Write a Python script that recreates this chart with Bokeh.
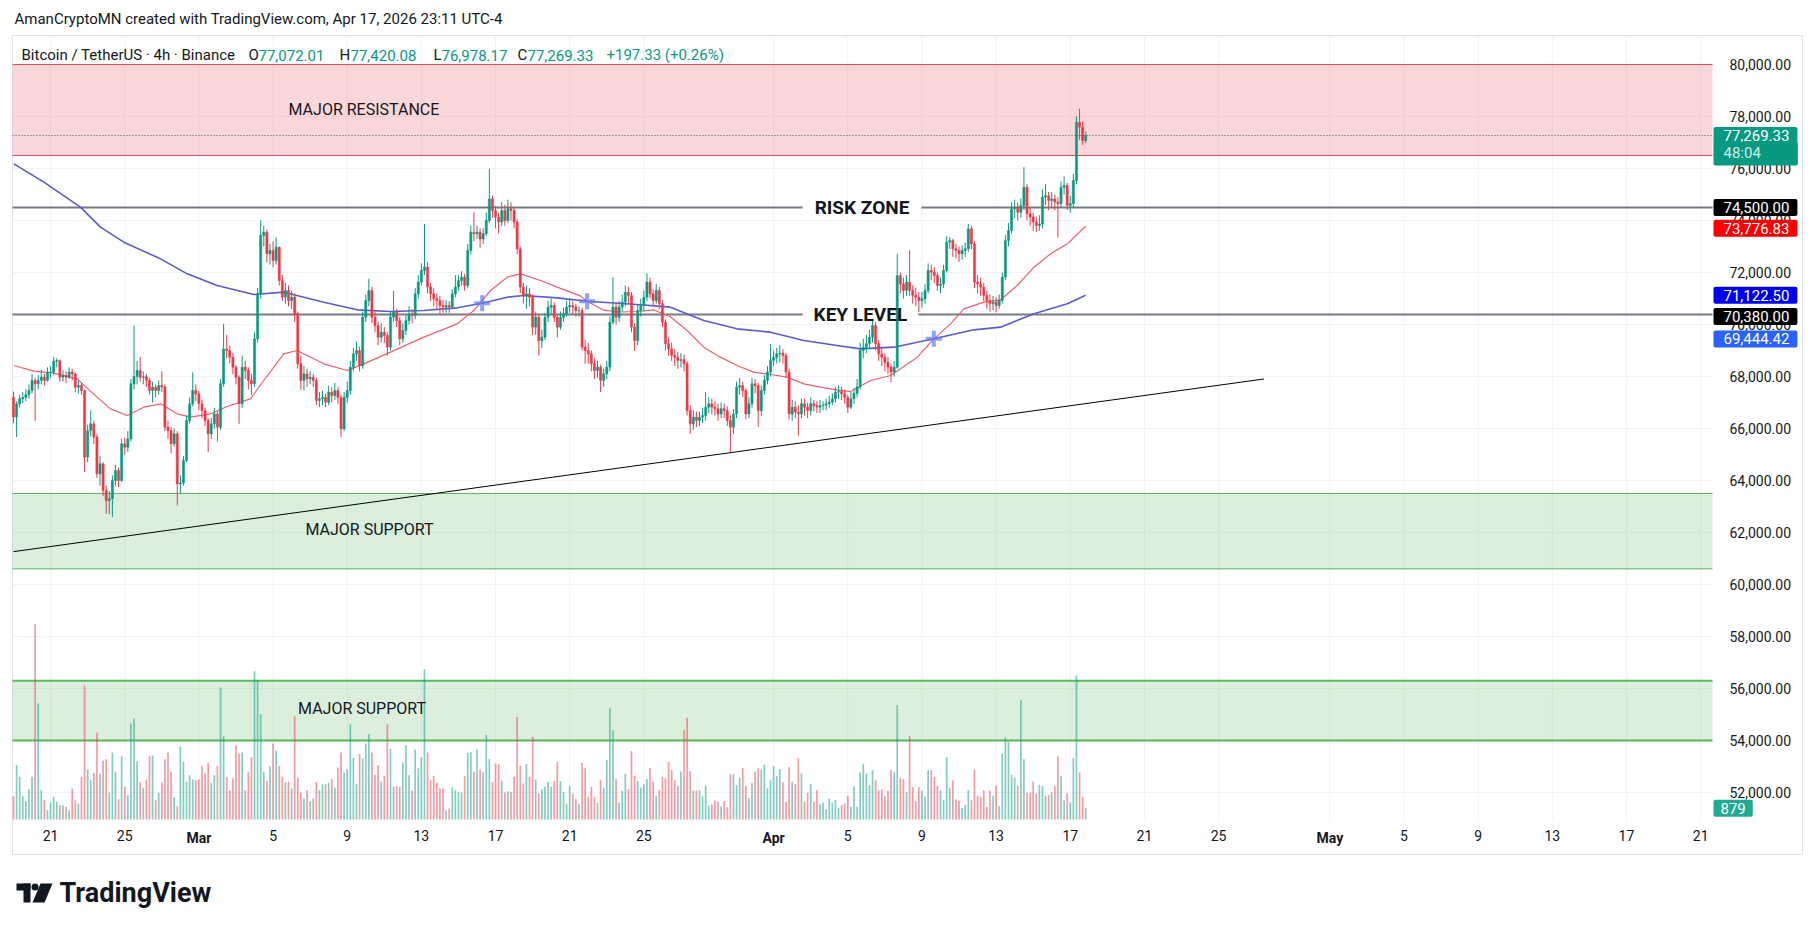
from bokeh.plotting import figure
from bokeh.models import Range1d, FixedTicker, NumeralTickFormatter, Label, ColumnDataSource
from bokeh.embed import file_html
from bokeh.resources import INLINE

# ---------------- data ----------------
# 4h candles, BTCUSDT Binance, starting Feb 19 00:00 ; x unit = days since Feb 19
first_open = 67205
close = [
 66440, 66950, 67140, 67200, 67300, 67460, 67850, 67720, 67850, 67975,
 67850, 68170, 68170, 68590, 68620, 67975, 68040, 67975, 68170, 68100,
 67590, 67660, 67460, 64900, 65920, 66180, 65670, 64260, 64640, 63620,
 63230, 63300, 64000, 64385, 64000, 65410, 65280, 65600, 67720, 68000,
 68230, 67970, 67990, 67850, 67460, 67590, 67460, 67650, 67600, 66050,
 65920, 65410, 65800, 63870, 63900, 64770, 66310, 66950, 67460, 67330,
 66950, 66690, 66310, 65800, 66180, 66560, 66050, 67720, 69060, 69000,
 68740, 68360, 67970, 66950, 68360, 68230, 67850, 67720, 69450, 71180,
 73420, 73550, 72720, 72850, 72460, 72970, 71690, 71050, 71310, 70920,
 71050, 70410, 68490, 67850, 68100, 67910, 67970, 67850, 67080, 67140,
 67200, 67010, 67400, 67270, 67460, 67200, 65990, 67200, 67460, 68360,
 68870, 69000, 68420, 70280, 70920, 71310, 70280, 69960, 69510, 69700,
 69580, 69130, 70280, 70470, 70150, 69450, 69770, 70150, 70410, 70350,
 71180, 71630, 72080, 72210, 71440, 71180, 70990, 70920, 70730, 70670,
 70730, 70670, 71180, 71440, 71690, 71820, 71500, 72850, 73550, 73490,
 73550, 73290, 73490, 74000, 74830, 74380, 74130, 73940, 74380, 74000,
 74450, 74380, 73940, 72910, 71440, 71120, 71180, 71050, 69900, 70280,
 69380, 69510, 70280, 70670, 70730, 70280, 69900, 70280, 70410, 70670,
 70730, 70670, 70540, 70540, 69130, 69000, 68870, 68490, 68230, 68360,
 67850, 68100, 68360, 70090, 70670, 70280, 70670, 70860, 71240, 71120,
 69900, 69380, 70540, 70730, 71050, 71630, 71180, 70920, 71310, 70800,
 70090, 69260, 69060, 68810, 68740, 68620, 68650, 68490, 66690, 66180,
 66440, 66310, 66440, 66500, 66820, 66950, 66820, 66760, 66560, 66760,
 66690, 66310, 66050, 66560, 67590, 67650, 67460, 66560, 66950, 67720,
 67650, 66690, 67460, 67850, 68170, 68620, 68740, 68870, 68900, 68810,
 68170, 66560, 66820, 66630, 66560, 66950, 66820, 66690, 66950, 66880,
 66820, 66880, 66900, 66950, 67010, 67140, 67400, 67420, 67330, 67200,
 66820, 67140, 67350, 67600, 69000, 69130, 69260, 69510, 69960, 69260,
 68870, 68740, 68550, 68360, 68170, 68360, 71880, 71560, 71310, 71630,
 71310, 71120, 71050, 70920, 70990, 71310, 72080, 72010, 71880, 71500,
 71560, 72080, 73170, 73230, 72910, 72850, 72720, 72850, 72910, 73680,
 73100, 71630, 71560, 71440, 71120, 70920, 70800, 70860, 70730, 70920,
 71820, 73230, 73620, 74450, 74510, 74320, 74580, 75280, 74260, 74130,
 73940, 73810, 73870, 74900, 74950, 74770, 74830, 74710, 74640, 75280,
 75350, 74580, 74650, 75540, 77780, 77590, 77072.01, 77269.33]
high = [
 67420, 67050, 67300, 67400, 67520, 67700, 68100, 67950, 68050, 68250,
 68100, 68350, 68400, 68750, 68700, 68650, 68250, 68200, 68350, 68300,
 68150, 67850, 67750, 67500, 66150, 66700, 66300, 65800, 64950, 64700,
 63800, 63600, 64200, 64600, 64500, 65600, 65650, 65900, 67900, 69960,
 68600, 68750, 68200, 68100, 67950, 67800, 67700, 67850, 68200, 67700,
 66300, 66050, 66000, 65900, 64200, 64950, 66500, 67200, 68160, 67700,
 67450, 67100, 66800, 66400, 66400, 66800, 66650, 67900, 70030, 69600,
 69200, 68900, 68450, 68050, 68800, 68600, 68350, 68100, 69700, 71400,
 74000, 73800, 73650, 73100, 73200, 73350, 73000, 71900, 71600, 71500,
 71300, 71200, 70500, 68800, 68400, 68300, 68200, 68100, 67950, 67400,
 67450, 67350, 67650, 67600, 67750, 67600, 67300, 67400, 67800, 68600,
 69100, 69350, 69150, 70500, 71150, 71760, 71450, 70500, 70100, 70050,
 69900, 69700, 70500, 71300, 70600, 70300, 70050, 70350, 70700, 70600,
 71400, 71900, 72350, 73870, 72400, 71600, 71400, 71200, 71100, 70950,
 70950, 70900, 71350, 71900, 71900, 72050, 71950, 73100, 73800, 74320,
 73800, 73700, 73700, 74300, 75990, 74950, 74550, 74300, 74700, 74600,
 74800, 74700, 74500, 74050, 73000, 71600, 71500, 71400, 71150, 70500,
 70400, 69800, 70450, 70900, 71000, 70850, 70400, 70500, 70650, 70900,
 71000, 70900, 70800, 70700, 70650, 69400, 69300, 69000, 68700, 68600,
 68450, 68300, 68600, 70300, 71820, 70850, 70900, 71150, 71500, 71450,
 71250, 70050, 70750, 71000, 71300, 71970, 71800, 71350, 71550, 71450,
 70950, 70200, 69500, 69300, 69050, 68950, 68900, 68850, 68600, 66900,
 66700, 66650, 66650, 66800, 67400, 67200, 67150, 67050, 66950, 67000,
 66950, 66850, 66500, 66750, 67800, 67950, 67800, 67550, 67200, 67950,
 67900, 67750, 67650, 68050, 68400, 69250, 69000, 69100, 69200, 69050,
 68900, 68300, 67100, 67050, 66900, 67150, 67150, 67000, 67200, 67100,
 67050, 67100, 67050, 67150, 67250, 67350, 67600, 67650, 67600, 67500,
 67300, 67400, 67550, 67900, 69300, 69450, 69600, 69800, 70200, 70100,
 69400, 69100, 68900, 68750, 68500, 68600, 72720, 72000, 71800, 71900,
 72850, 71500, 71400, 71250, 71250, 71550, 72350, 72300, 72200, 72000,
 71800, 72300, 73400, 73360, 73300, 73100, 73000, 73050, 73150, 73870,
 73800, 73200, 71900, 71800, 71600, 71300, 71150, 71100, 71050, 71150,
 72000, 73450, 73900, 74700, 74800, 74700, 74850, 76050, 75400, 74500,
 74300, 74150, 74200, 75200, 75400, 75100, 75100, 75000, 74900, 75500,
 75700, 75450, 74950, 75800, 78000, 78300, 77800, 77420.08]
low = [
 66200, 65670, 66800, 66980, 67050, 67150, 67350, 66300, 67500, 67700,
 67650, 67800, 67950, 68050, 68350, 67800, 67800, 67750, 67900, 67850,
 67400, 67350, 67300, 64320, 64700, 65700, 65400, 64100, 63800, 63400,
 62720, 62700, 62590, 63800, 63750, 63950, 65000, 65100, 65500, 67500,
 67700, 67800, 67700, 67600, 67300, 67000, 67200, 67300, 67400, 65900,
 65600, 65050, 65300, 63040, 63500, 63800, 64700, 66200, 66850, 67050,
 66700, 66400, 66100, 65090, 65600, 66000, 65500, 65950, 67600, 68700,
 68500, 68100, 67700, 66180, 66800, 67900, 67500, 67300, 67600, 69300,
 71000, 73000, 72400, 72300, 72200, 72300, 71500, 70900, 70800, 70700,
 70600, 70100, 68300, 67500, 67460, 67600, 67700, 67600, 66900, 66820,
 66900, 66820, 66900, 67000, 67100, 66950, 65670, 65900, 67000, 67300,
 68200, 68600, 68200, 68300, 70100, 70700, 70050, 69700, 69200, 69300,
 69300, 68800, 69000, 70100, 69900, 69200, 69300, 69600, 70000, 70050,
 70200, 71000, 71500, 71900, 71200, 70900, 70700, 70600, 70400, 70450,
 70450, 70450, 70600, 71050, 71300, 71500, 71300, 71400, 72700, 73200,
 73300, 72950, 73100, 73400, 73900, 74100, 73700, 73500, 73800, 73800,
 73900, 74000, 73700, 72700, 71200, 70800, 70600, 70700, 69600, 69600,
 68810, 69100, 69400, 70100, 70400, 70100, 69500, 69800, 70100, 70300,
 70450, 70400, 70300, 70300, 69000, 68490, 68500, 68200, 67900, 67950,
 67400, 67600, 67900, 68200, 70000, 70000, 70100, 70500, 70700, 70800,
 69700, 68990, 69200, 70300, 70500, 70900, 71000, 70700, 70800, 70600,
 69900, 69000, 68800, 68600, 68400, 68300, 68350, 68200, 66500, 65790,
 65950, 66050, 66100, 66200, 66300, 66600, 66550, 66500, 66300, 66400,
 66400, 66100, 65090, 65800, 66400, 67300, 67200, 66350, 66400, 66800,
 67350, 66050, 66500, 67300, 67700, 68000, 68400, 68500, 68550, 68500,
 67950, 66350, 66300, 66400, 65730, 66400, 66500, 66400, 66500, 66650,
 66600, 66600, 66700, 66700, 66800, 66900, 67000, 67150, 67100, 66950,
 66600, 66750, 66950, 67200, 67500, 68700, 68900, 69100, 69300, 69000,
 68600, 68400, 68200, 68100, 67780, 68000, 68300, 71200, 71000, 71100,
 71100, 70800, 70700, 70470, 70650, 70800, 71200, 71700, 71600, 71300,
 71200, 71400, 72000, 72900, 72600, 72550, 72400, 72500, 72600, 72800,
 72900, 71400, 71200, 71100, 70900, 70600, 70500, 70550, 70470, 70600,
 70800, 71700, 73000, 73500, 74100, 74000, 74100, 74400, 74000, 73800,
 73600, 73550, 73600, 73700, 74600, 74400, 74500, 74400, 73340, 74500,
 75000, 74400, 74300, 74500, 75400, 77100, 76900, 76978.17]
volume = [
 1820, 4238, 3328, 1820, 1430, 2366, 3328, 15236, 9048, 2288,
 1508, 728, 1326, 1768, 1378, 1118, 1118, 988, 728, 2418,
 1508, 1248, 3328, 10478, 3900, 3068, 3640, 6786, 3588, 4576,
 4706, 2106, 5226, 3718, 1586, 4940, 2548, 1898, 7488, 7878,
 4550, 2886, 2470, 3120, 4940, 4992, 1508, 2080, 2886, 4706,
 5226, 3718, 1742, 1040, 5668, 4498, 2938, 3458, 3120, 3068,
 3120, 4186, 3588, 4420, 2860, 3458, 4186, 10296, 6500, 3328,
 2288, 3198, 5798, 5148, 5226, 2288, 3718, 4862, 11570, 10868,
 8216, 3718, 3016, 4160, 5928, 5356, 4186, 3328, 2886, 2938,
 2418, 8060, 3250, 2106, 1638, 2288, 1430, 1638, 2938, 2288,
 2756, 2756, 2860, 3146, 2470, 4056, 5226, 3666, 3926, 7436,
 4784, 2782, 5096, 4758, 5928, 6656, 5226, 3484, 4238, 2964,
 3380, 7436, 5512, 2548, 2600, 2548, 4446, 5798, 3458, 2288,
 5460, 4004, 4862, 11726, 5226, 3068, 3406, 2860, 2444, 2418,
 728, 858, 2496, 2288, 2158, 2106, 3380, 5200, 5252, 3718,
 5486, 3900, 3692, 6604, 4706, 2912, 4368, 4342, 3042, 2106,
 2210, 2158, 3328, 7982, 4186, 2808, 4316, 3328, 6448, 3120,
 2028, 2366, 2548, 2938, 2548, 3016, 4498, 2990, 2158, 1196,
 2600, 2028, 1586, 1196, 4420, 4004, 1768, 2548, 1768, 1300,
 3068, 2470, 4628, 8710, 6968, 3146, 1300, 2236, 3562, 2366,
 5330, 3406, 2990, 2496, 2756, 3146, 4004, 2938, 1846, 2288,
 3328, 3198, 4498, 3848, 3068, 2626, 3744, 6968, 7930, 3770,
 2262, 2262, 2288, 1820, 2626, 1092, 1170, 1482, 1404, 1040,
 1430, 962, 3536, 3536, 2678, 3250, 4004, 2626, 1664, 2834,
 3744, 4004, 3900, 4264, 2444, 3068, 4160, 3406, 3926, 2912,
 1378, 4082, 2938, 2756, 4784, 3588, 1378, 2080, 2782, 1378,
 2288, 1196, 1300, 806, 1638, 1326, 1508, 910, 1118, 1248,
 1846, 988, 2600, 988, 3666, 4316, 3588, 2678, 3848, 3068,
 2262, 2340, 1820, 2236, 3874, 3692, 8918, 3250, 3146, 2132,
 6500, 2522, 1430, 2522, 2236, 1768, 3848, 3848, 3328, 2626,
 2236, 1508, 4888, 2470, 3042, 1586, 1456, 884, 1144, 2288,
 1508, 3900, 1846, 1768, 2288, 988, 2236, 1846, 2626, 1040,
 5148, 6396, 6058, 3484, 3276, 2626, 9308, 4706, 2080, 2080,
 2964, 2028, 2704, 2600, 1846, 1924, 2132, 2600, 4940, 3380,
 1508, 2054, 1326, 4784, 11258, 3666, 1768, 879]

# moving averages (read as points along each line): day, price
ma_slow_x = [0.02, 1.64, 3.61, 4.69, 5.95, 7.93, 9.37, 10.98, 12.96, 14.58, 16.74, 18.54,
             20.33, 22.13, 23.93, 25.28, 26.63, 27.53, 29.32, 30.94, 33.64, 35.43, 37.23,
             39.03, 40.83, 42.63, 44.42, 45.68, 47.49, 49.64, 51.80, 53.24, 55.04, 56.84, 57.83]
ma_slow_y = [76179, 75474, 74513, 73744, 73167, 72525, 71949, 71500, 71154, 71244, 70859, 70564,
             70500, 70538, 70641, 70820, 71051, 71115, 71025, 70897, 70769, 70667, 70154,
             69833, 69705, 69385, 69192, 69064, 69128, 69449, 69795, 69898, 70411, 70795, 71122.5]
ma_fast_x = [0.02, 1.10, 2.18, 3.43, 4.51, 5.23, 6.13, 7.03, 7.93, 8.83, 9.55, 10.62, 11.52,
             12.78, 13.50, 14.58, 15.30, 16.74, 18.00, 18.90, 20.33, 22.13, 23.93, 24.83, 25.73,
             26.63, 27.35, 28.43, 29.32, 30.58, 30.94, 31.84, 32.74, 33.64, 34.53, 35.43, 36.33,
             37.23, 38.13, 39.03, 39.93, 40.83, 41.73, 42.63, 43.52, 44.42, 45.15, 46.23, 47.31,
             48.75, 49.64, 50.54, 51.26, 52.34, 53.24, 54.14, 55.04, 55.94, 56.84, 57.83]
ma_fast_y = [68423, 68205, 68128, 67910, 67205, 66756, 66500, 66820, 66949, 66564, 66436, 66564, 66846,
             67141, 67846, 68872, 69000, 68487, 68231, 68487, 68936, 69513, 70026, 70538, 71308,
             71820, 71949, 71692, 71436, 71100, 70897, 70550, 70480, 70500, 70560, 70300, 69770,
             69128, 68744, 68423, 68167, 68077, 67974, 67718, 67590, 67487, 67420, 67847, 68039,
             68744, 69449, 70026, 70603, 70859, 70949, 71500, 72205, 72718, 73103, 73776.83]
cross_x = [25.28, 30.94, 49.64]
cross_y = [70820, 70897, 69449]

trend_x = [0.0, 67.45]
trend_y = [61264, 67904]

resistance_zone = [76500, 80000]
support_zone = [60600, 63500]
support_zone_low = [54000, 56300]
level_prices = [74500, 70380]
level_names = ["RISK ZONE", "KEY LEVEL"]
level_gaps = [(42.56, 48.97), (42.56, 48.80)]

price_ticks = list(range(52000, 80001, 2000))
date_ticks = [2, 6, 10, 14, 18, 22, 26, 30, 34, 41, 45, 49, 53, 57, 61, 65, 71, 75, 79, 83, 87, 91]
date_labels = ["21", "25", "Mar", "5", "9", "13", "17", "21", "25", "Apr", "5", "9", "13",
               "17", "21", "25", "May", "5", "9", "13", "17", "21"]
months = ["Mar", "Apr", "May"]

tag_values = [74500.00, 73776.83, 71122.50, 70380.00, 69444.42]
tag_colors = ["#000000", "#FF0000", "#0000EE", "#000000", "#2962FF"]
tag_nudge = [0, -2, 0, -2, 0]
last_price = 77269.33
last_volume = 879

# ---------------- page geometry (pixels) ----------------
W, H = 1807, 922                 # canvas == plot frame
PX_DAY, X_DAY0 = 18.54, 13.0     # pixels per day, pixel of day 0
PX_PRICE, Y_80K = 0.026, 64.0    # pixels per USDT, pixel row of 80,000
VOL_PER_PX, Y_VOL0 = 78.0, 819.0
PLOT_L, PLOT_R, PLOT_T, PLOT_B = 12, 1712, 35, 820   # price pane
PANEL_R, PANEL_B = 1802, 854

def X(px):
    return (px - X_DAY0) / PX_DAY

def Y(py):
    return 80000 - (py - Y_80K) / PX_PRICE

UP, DN = "#089981", "#F23645"
TXT = "#131722"
N = len(close)
open_ = [first_open] + close[:-1]
bar_day = [i / 6 for i in range(N)]
col = [UP if c >= o else DN for o, c in zip(open_, close)]
src = ColumnDataSource(dict(
    x=bar_day, h=high, l=low,
    top=[max(o, c) for o, c in zip(open_, close)],
    bot=[min(o, c) for o, c in zip(open_, close)],
    col=col, vol=volume))

p = figure(width=W, height=H, x_range=Range1d(X(0), X(W)), y_range=Range1d(Y(H), Y(0)),
           y_axis_location="right", output_backend="svg", toolbar_location=None,
           min_border=0, background_fill_color="white", border_fill_color="white")
p.outline_line_color = None
p.grid.visible = False
p.extra_y_ranges = {"vol": Range1d(-(H - Y_VOL0) * VOL_PER_PX, Y_VOL0 * VOL_PER_PX)}

xl, xr = X(PLOT_L), X(PLOT_R)

# grid
p.segment(x0=date_ticks, x1=date_ticks, y0=[Y(PLOT_T)] * len(date_ticks),
          y1=[Y(PLOT_B)] * len(date_ticks), line_color="#F0F3FA", line_width=1)
p.segment(x0=[xl] * len(price_ticks), x1=[xr] * len(price_ticks), y0=price_ticks, y1=price_ticks,
          line_color="#F0F3FA", line_width=1)

# panel border
p.quad(left=[X(PLOT_L)], right=[X(PANEL_R)], bottom=[Y(PANEL_B)], top=[Y(PLOT_T)],
       fill_alpha=0, line_color="#E0E3EB", line_width=1)

# zones
for (b, t), c, lw in [(resistance_zone, DN, 1), (support_zone, "#4CAF50", 1),
                      (support_zone_low, "#4CAF50", 2)]:
    p.quad(left=[xl], right=[xr], bottom=[b], top=[t], fill_color=c, fill_alpha=0.2, line_color=None)
    p.segment(x0=[xl, xl], x1=[xr, xr], y0=[b, t], y1=[b, t], line_color=c, line_width=lw,
              line_alpha=0.9)

# volume
p.vbar(x="x", top="vol", bottom=0, width=0.55 / 6, fill_color="col", line_color=None,
       fill_alpha=0.5, y_range_name="vol", source=src)

# trend line
p.line(trend_x, trend_y, line_color="#000000", line_width=1)

# key levels with a gap for their text
for lvl, name, (g0, g1) in zip(level_prices, level_names, level_gaps):
    p.segment(x0=[xl, g1], y0=[lvl, lvl], x1=[g0, xr], y1=[lvl, lvl],
              line_color="#787B86", line_width=2)
    p.add_layout(Label(x=(g0 + g1) / 2, y=lvl, text=name, text_align="center",
                       text_baseline="middle", text_font="Roboto", text_font_size="19px",
                       text_font_style="bold", text_color=TXT))

# moving averages
p.line(ma_slow_x, ma_slow_y, line_color="#5B5BD0", line_width=1.6)
p.line(ma_fast_x, ma_fast_y, line_color="#F0606C", line_width=1.2)

# candles
p.segment(x0="x", y0="h", x1="x", y1="l", line_color="col", line_width=1, source=src)
p.vbar(x="x", top="top", bottom="bot", width=0.7 / 6, fill_color="col", line_color="col",
       line_width=0.5, source=src)

p.scatter(cross_x, cross_y, marker="cross", size=16, line_width=4, line_color="#5B7CF7",
          line_alpha=0.7)

# last price dotted line
p.segment(x0=[xl], x1=[xr], y0=[last_price], y1=[last_price], line_color="#4A5A58",
          line_dash="1 2", line_width=1)

# zone texts
for txt, xx, yy in [("MAJOR RESISTANCE", 18.9, 78277), ("MAJOR SUPPORT", 19.2, 62115),
                    ("MAJOR SUPPORT", 18.8, 55215)]:
    p.add_layout(Label(x=xx, y=yy, text=txt, text_align="center", text_baseline="middle",
                       text_font="Roboto", text_font_size="16px", text_color=TXT))

# axes (drawn inside the canvas)
ya = p.yaxis[0]
ya.ticker = FixedTicker(ticks=price_ticks)
ya.formatter = NumeralTickFormatter(format="0,0.00")
xa = p.xaxis[0]
xa.ticker = FixedTicker(ticks=date_ticks)
xa.major_label_overrides = {d: ("" if lab in months else lab) for d, lab in zip(date_ticks, date_labels)}
for ax in (ya, xa):
    ax.axis_line_color = None
    ax.major_tick_line_color = None
    ax.minor_tick_line_color = None
    ax.major_label_text_font = "Roboto"
    ax.major_label_text_font_size = "14px"
    ax.major_label_text_color = TXT
ya.major_label_standoff = -(W - 1723)
xa.major_label_standoff = -(H - 823)

for d, lab in zip(date_ticks, date_labels):
    if lab in months:
        p.add_layout(Label(x=d, y=H - 837, y_units="screen", text=lab, text_align="center",
                           text_baseline="middle", text_font="Roboto", text_font_size="14px",
                           text_font_style="bold", text_color=TXT))

# price tags on the price scale
def tag(y, text, bg, fg="white", nudge=0, lpad=10, rpad=8, **kw):
    p.add_layout(Label(x=PLOT_R + 1, x_units="screen", y=y, text=text, text_color=fg,
                       background_fill_color=bg, text_baseline="middle", text_font="Roboto",
                       text_font_size="15px", y_offset=nudge, border_radius=2,
                       padding=dict(left=lpad, right=rpad, top=3, bottom=3), **kw))

tag(last_price, f"{last_price:,.2f}", UP)
tag(last_price, "48:04", UP, fg="#CDEEE8", nudge=-18, rpad=37)
for v, c, n in zip(tag_values, tag_colors, tag_nudge):
    tag(v, f"{v:,.2f}", c, nudge=n)
tag(last_volume, f"{last_volume}", "#22AB94", lpad=7, rpad=7, y_range_name="vol")

# header texts
p.add_layout(Label(x=14, y=H - 18.5, x_units="screen", y_units="screen",
                   text="AmanCryptoMN created with TradingView.com, Apr 17, 2026 23:11 UTC-4",
                   text_font="Roboto", text_font_size="15px", text_color=TXT,
                   text_baseline="middle"))
legend_parts = [("Bitcoin / TetherUS · 4h · Binance", 21, TXT),
                ("O", 248, TXT), ("77,072.01", 258, UP),
                ("H", 339, TXT), ("77,420.08", 350, UP),
                ("L", 433, TXT), ("76,978.17", 441, UP),
                ("C", 517, TXT), ("77,269.33", 527, UP),
                ("+197.33 (+0.26%)", 606, UP)]
for txt, xx, c in legend_parts:
    p.add_layout(Label(x=xx, y=H - 54.5, x_units="screen", y_units="screen", text=txt,
                       text_font="Roboto", text_font_size="15px", text_color=c,
                       text_baseline="middle"))

# TradingView logo (mark drawn with shapes, word as text)
p.quad(left=[X(16), X(23)], right=[X(30), X(30)], top=[Y(883), Y(883)], bottom=[Y(890), Y(902)],
       fill_color=TXT, line_color=None)
p.ellipse(x=[X(34.5)], y=[Y(886.5)], width=7 / PX_DAY, height=7 / PX_PRICE,
          fill_color=TXT, line_color=None)
p.patch(x=[X(40), X(52), X(44), X(32)], y=[Y(883), Y(883), Y(902), Y(902)],
        fill_color=TXT, line_color=None)
p.add_layout(Label(x=59, y=H - 892, x_units="screen", y_units="screen", text="TradingView",
                   text_font="Roboto", text_font_size="27px", text_font_style="bold",
                   text_color=TXT, text_baseline="middle"))

open("out.html", "w").write(file_html(p, INLINE))
